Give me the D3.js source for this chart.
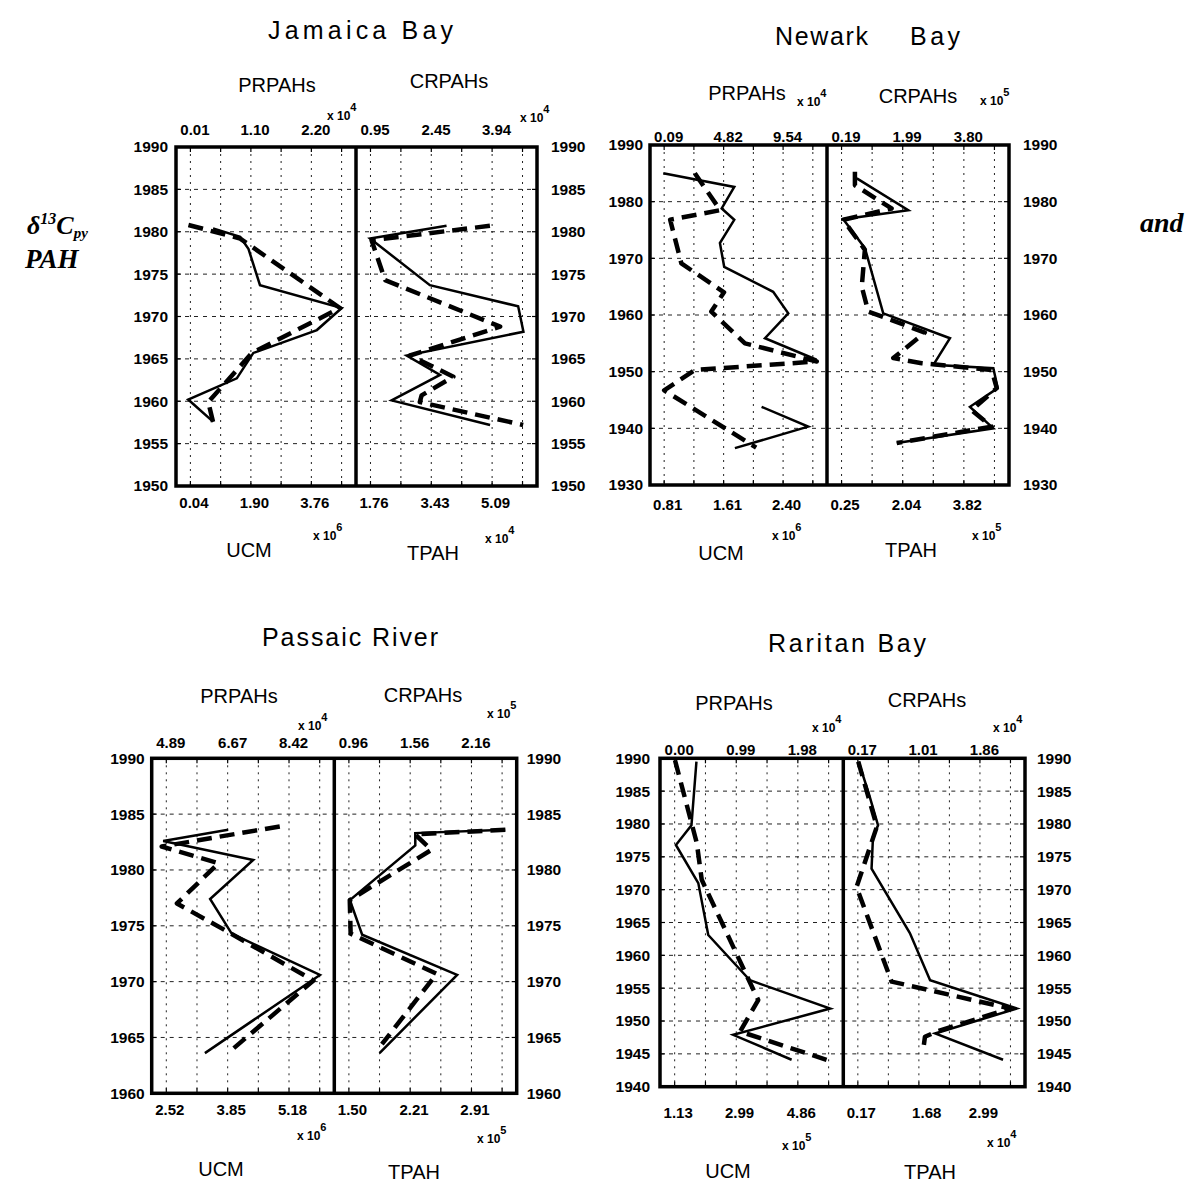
<!DOCTYPE html>
<html><head><meta charset="utf-8">
<script src="https://cdn.jsdelivr.net/npm/d3@7"></script>
<style>body{margin:0;background:#fff}svg{display:block}</style>
</head><body>
<svg id="chart" width="1191" height="1185"></svg>
<script>
// ---------------- DATA ----------------
// Each series: [year, value] ; value in units of the printed axis (times its exponent)
const jamaicaYearTicks = [1950,1955,1960,1965,1970,1975,1980,1985,1990];
const jamaicaPRTicks = [0.01, 1.10, 2.20];
const jamaicaCRTicks = [0.95, 2.45, 3.94];
const jamaicaUCMTicks = [0.04, 1.90, 3.76];
const jamaicaTPAHTicks = [1.76, 3.43, 5.09];
const jamaicaExponents = [4, 4, 6, 4]; // PRPAHs, CRPAHs, UCM, TPAH
const jamaicaPRPAHs = [[1980.4,0.42],[1979.4,0.91],[1978.0,1.06],[1973.7,1.27],[1971.0,2.75],[1968.4,2.30],[1965.7,1.15],[1962.7,0.85],[1960.2,-0.03],[1957.6,0.42]];
const jamaicaUCM = [[1980.8,-0.02],[1979.2,1.57],[1971.0,4.64],[1965.7,1.93],[1959.9,0.59],[1957.5,0.74]];
const jamaicaCRPAHs = [[1980.7,2.82],[1979.2,0.94],[1973.7,2.41],[1971.2,4.58],[1968.2,4.71],[1965.4,1.84],[1963.1,2.66],[1960.1,1.47],[1957.2,3.89]];
const jamaicaTPAH = [[1980.7,5.03],[1979.0,1.79],[1974.3,2.16],[1968.8,5.31],[1965.4,2.84],[1962.9,4.03],[1960.7,3.16],[1959.9,3.11],[1957.2,5.94]];

const newarkYearTicks = [1930,1940,1950,1960,1970,1980,1990];
const newarkPRTicks = [0.09, 4.82, 9.54];
const newarkCRTicks = [0.19, 1.99, 3.80];
const newarkUCMTicks = [0.81, 1.61, 2.40];
const newarkTPAHTicks = [0.25, 2.04, 3.82];
const newarkExponents = [4, 5, 6, 5];
const newarkPRPAHs = [[1985.0,0.02],[1982.6,5.66],[1978.8,4.66],[1976.8,5.66],[1972.7,4.52],[1968.5,4.86],[1964.1,8.75],[1960.3,9.95],[1955.9,8.10],[1952.1,12.20],[1948.0,null],[1943.8,7.83],[1940.3,11.53],[1936.5,5.71]];
const newarkUCM = [[1985.0,1.22],[1978.5,1.56],[1976.8,0.89],[1969.1,1.04],[1964.0,1.61],[1960.6,1.44],[1955.0,1.89],[1951.8,2.85],[1950.3,1.22],[1946.7,0.81],[1936.6,2.04]];
const newarkCRPAHs = [[1984.1,0.64],[1978.5,2.16],[1976.9,0.24],[1971.8,0.88],[1960.3,1.42],[1955.9,3.39],[1951.2,2.90],[1950.6,4.67],[1947.1,4.80],[1943.8,3.98],[1940.0,4.67],[1937.4,1.82]];
const newarkTPAH = [[1985.3,0.64],[1982.9,0.64],[1978.8,1.71],[1976.8,0.30],[1971.5,0.93],[1965.0,0.84],[1960.6,1.03],[1959.1,1.71],[1956.9,2.68],[1952.4,1.76],[1951.5,2.59],[1950.3,4.63],[1947.1,4.78],[1943.2,4.05],[1940.3,4.63],[1937.4,1.86]];

const passaicYearTicks = [1960,1965,1970,1975,1980,1985,1990];
const passaicPRTicks = [4.89, 6.67, 8.42];
const passaicCRTicks = [0.96, 1.56, 2.16];
const passaicUCMTicks = [2.52, 3.85, 5.18];
const passaicTPAHTicks = [1.50, 2.21, 2.91];
const passaicExponents = [4, 5, 6, 5];
const passaicPRPAHs = [[1983.6,6.67],[1982.6,4.80],[1980.9,7.39],[1977.4,6.15],[1974.3,6.77],[1970.6,9.31],[1963.6,6.00]];
const passaicUCM = [[1983.9,4.98],[1982.1,2.42],[1980.6,3.65],[1977.0,2.75],[1974.7,3.75],[1970.1,5.71],[1964.0,3.97]];
const passaicCRPAHs = [[1983.6,2.49],[1983.3,1.61],[1982.2,1.61],[1977.3,0.97],[1974.2,1.09],[1970.6,2.02],[1963.6,1.26]];
const passaicTPAH = [[1983.6,3.30],[1983.2,2.26],[1981.8,2.45],[1977.3,1.51],[1974.3,1.52],[1970.7,2.51],[1964.4,1.88]];

const raritanYearTicks = [1940,1945,1950,1955,1960,1965,1970,1975,1980,1985,1990];
const raritanPRTicks = [0.00, 0.99, 1.98];
const raritanCRTicks = [0.17, 1.01, 1.86];
const raritanUCMTicks = [1.13, 2.99, 4.86];
const raritanTPAHTicks = [0.17, 1.68, 2.99];
const raritanExponents = [4, 4, 5, 4];
const raritanPRPAHs = [[1989.5,0.35],[1979.8,0.27],[1976.8,0.02],[1971.0,0.38],[1963.1,0.54],[1956.2,1.21],[1951.9,2.50],[1947.9,0.94],[1944.1,1.88]];
const raritanUCM = [[1989.7,1.14],[1977.1,1.80],[1971.5,1.95],[1953.2,3.66],[1948.4,3.11],[1944.1,5.73]];
const raritanCRPAHs = [[1989.5,0.18],[1984.7,0.32],[1979.8,0.45],[1978.1,0.38],[1973.2,0.36],[1963.4,0.89],[1956.2,1.17],[1951.9,2.37],[1948.1,1.24],[1944.1,2.18]];
const raritanTPAH = [[1989.5,0.18],[1979.6,0.61],[1970.4,0.14],[1956.0,0.95],[1951.9,3.69],[1948.4,1.99],[1947.6,1.72],[1945.6,1.68]];

const panelTitles = ['Jamaica Bay', 'Newark Bay', 'Passaic River', 'Raritan Bay'];
const topNames = ['PRPAHs', 'CRPAHs'];
const bottomNames = ['UCM', 'TPAH'];

// ---------------- LAYOUT ----------------
const layouts = [
  {L:176,D:356,R:537,T:147,B:486, title:[[268,453,39]], names:[[277,92],[449,88]], bnames:[[249,557],[433,560]],
   topY:135, botY:508, yl:8, yr:14, tExp:[[327,120],[520,122]], bExp:[[313,540],[485,543]]},
  {L:650,D:827,R:1009,T:145,B:485, title:[[775,868,45],[910,960,45]], names:[[747,100],[918,103]], bnames:[[721,560],[911,557]],
   topY:142, botY:510, yl:7, yr:14, tExp:[[797,106],[980,105]], bExp:[[772,540],[972,540]]},
  {L:151.7,D:334.3,R:516.7,T:758.3,B:1093.3, title:[[262,438,646]], names:[[239,703],[423,702]], bnames:[[221,1176],[414,1179]],
   topY:748, botY:1115, yl:7, yr:10, tExp:[[298,730],[487,718]], bExp:[[297,1140],[477,1143]]},
  {L:660,D:843.3,R:1025,T:758.3,B:1086.7, title:[[768,926,652]], names:[[734,710],[927,707]], bnames:[[728,1178],[930,1179]],
   topY:755, botY:1118, yl:10, yr:12, tExp:[[812,732],[993,732]], bExp:[[782,1150],[987,1147]]}
];

const panels = [
  {years:jamaicaYearTicks, subs:[
    {top:jamaicaPRTicks, bot:jamaicaUCMTicks, solid:jamaicaPRPAHs, dashed:jamaicaUCM, te:jamaicaExponents[0], be:jamaicaExponents[2]},
    {top:jamaicaCRTicks, bot:jamaicaTPAHTicks, solid:jamaicaCRPAHs, dashed:jamaicaTPAH, te:jamaicaExponents[1], be:jamaicaExponents[3]}]},
  {years:newarkYearTicks, subs:[
    {top:newarkPRTicks, bot:newarkUCMTicks, solid:newarkPRPAHs, dashed:newarkUCM, te:newarkExponents[0], be:newarkExponents[2]},
    {top:newarkCRTicks, bot:newarkTPAHTicks, solid:newarkCRPAHs, dashed:newarkTPAH, te:newarkExponents[1], be:newarkExponents[3]}]},
  {years:passaicYearTicks, subs:[
    {top:passaicPRTicks, bot:passaicUCMTicks, solid:passaicPRPAHs, dashed:passaicUCM, te:passaicExponents[0], be:passaicExponents[2]},
    {top:passaicCRTicks, bot:passaicTPAHTicks, solid:passaicCRPAHs, dashed:passaicTPAH, te:passaicExponents[1], be:passaicExponents[3]}]},
  {years:raritanYearTicks, subs:[
    {top:raritanPRTicks, bot:raritanUCMTicks, solid:raritanPRPAHs, dashed:raritanUCM, te:raritanExponents[0], be:raritanExponents[2]},
    {top:raritanCRTicks, bot:raritanTPAHTicks, solid:raritanCRPAHs, dashed:raritanTPAH, te:raritanExponents[1], be:raritanExponents[3]}]}
];

const SANS = "'Liberation Sans', Arial, Helvetica, sans-serif";
const SERIF = "'Liberation Serif', 'Times New Roman', serif";
const svg = d3.select('#chart');
svg.append('rect').attr('width',1191).attr('height',1185).attr('fill','#fff');
const fmt2 = d3.format('.2f');

function expLabel(x, y, e) {
  const t = svg.append('text').attr('x', x).attr('y', y).attr('font-family', SANS)
    .attr('font-size', 12).attr('font-weight','bold').attr('fill','#000');
  t.append('tspan').text('x 10');
  t.append('tspan').attr('dy', -9).attr('font-size', 11).text(e);
}

panels.forEach((p, pi) => {
  const lay = layouts[pi];
  const ys = d3.scaleLinear().domain([p.years[0], p.years[p.years.length - 1]]).range([lay.B, lay.T]);

  // title(s)
  const words = pi === 1 ? ['Newark', 'Bay'] : [panelTitles[pi]];
  lay.title.forEach((tt, k) => {
    svg.append('text').attr('x', tt[0]).attr('y', tt[2]).attr('font-family', SANS)
      .attr('font-size', 25).attr('textLength', tt[1] - tt[0]).attr('lengthAdjust', 'spacing')
      .text(words[k]);
  });

  const bounds = [[lay.L, lay.D], [lay.D, lay.R]];
  p.subs.forEach((s, i) => {
    const [x0, x1] = bounds[i];
    const w = x1 - x0;
    const g0 = x0 + w * 0.08, g4 = x0 + w * (0.08 + 4 * 0.168);
    const xsTop = d3.scaleLinear().domain([s.top[0], s.top[2]]).range([g0, g4]);
    const xsBot = d3.scaleLinear().domain([s.bot[0], s.bot[2]]).range([g0, g4]);

    // grid
    const gridVals = d3.range(6).map(k => s.top[0] + k * (s.top[2] - s.top[0]) / 4);
    svg.append('g').selectAll('line').data(gridVals).join('line')
      .attr('x1', d => xsTop(d)).attr('x2', d => xsTop(d)).attr('y1', lay.T).attr('y2', lay.B)
      .attr('stroke', '#222').attr('stroke-width', 1).attr('stroke-dasharray', '2,5');
    svg.append('g').selectAll('line').data(p.years).join('line')
      .attr('x1', x0).attr('x2', x1).attr('y1', d => ys(d)).attr('y2', d => ys(d))
      .attr('stroke', '#222').attr('stroke-width', 1).attr('stroke-dasharray', '4,5');
    // inward ticks
    svg.append('g').selectAll('line').data(gridVals).join('line')
      .attr('x1', d => xsTop(d)).attr('x2', d => xsTop(d)).attr('y1', lay.B).attr('y2', lay.B - 5)
      .attr('stroke', '#000').attr('stroke-width', 1.2);
    svg.append('g').selectAll('line').data(gridVals).join('line')
      .attr('x1', d => xsTop(d)).attr('x2', d => xsTop(d)).attr('y1', lay.T).attr('y2', lay.T + 5)
      .attr('stroke', '#000').attr('stroke-width', 1.2);

    // top tick labels
    const ga = svg.append('g').attr('transform', `translate(0,${lay.topY})`)
      .call(d3.axisTop(xsTop).tickValues(s.top).tickSize(0).tickPadding(0).tickFormat(fmt2));
    ga.select('.domain').remove();
    ga.selectAll('text').attr('y', 0).attr('dy', 0).attr('dx', 4)
      .attr('font-family', SANS).attr('font-size', 15).attr('font-weight', 'bold').attr('fill', '#000');
    // bottom tick labels
    const gb = svg.append('g').attr('transform', `translate(0,${lay.botY})`)
      .call(d3.axisBottom(xsBot).tickValues(s.bot).tickSize(0).tickPadding(0).tickFormat(fmt2));
    gb.select('.domain').remove();
    gb.selectAll('text').attr('y', 0).attr('dy', 0).attr('dx', 3)
      .attr('font-family', SANS).attr('font-size', 15).attr('font-weight', 'bold').attr('fill', '#000');

    // names
    svg.append('text').attr('x', lay.names[i][0]).attr('y', lay.names[i][1]).attr('text-anchor', 'middle')
      .attr('font-family', SANS).attr('font-size', 20).text(topNames[i]);
    svg.append('text').attr('x', lay.bnames[i][0]).attr('y', lay.bnames[i][1]).attr('text-anchor', 'middle')
      .attr('font-family', SANS).attr('font-size', 20).text(bottomNames[i]);
    expLabel(lay.tExp[i][0], lay.tExp[i][1], s.te);
    expLabel(lay.bExp[i][0], lay.bExp[i][1], s.be);

    // data lines
    const lineTop = d3.line().defined(d => d[1] != null).x(d => xsTop(d[1])).y(d => ys(d[0]));
    const lineBot = d3.line().defined(d => d[1] != null).x(d => xsBot(d[1])).y(d => ys(d[0]));
    svg.append('path').datum(s.dashed).attr('d', lineBot).attr('fill', 'none')
      .attr('stroke', '#000').attr('stroke-width', 4.5).attr('stroke-dasharray', '15,8')
      .attr('stroke-linejoin', 'round');
    svg.append('path').datum(s.solid).attr('d', lineTop).attr('fill', 'none')
      .attr('stroke', '#000').attr('stroke-width', 2.5).attr('stroke-linejoin', 'miter');
  });

  // year tick marks on frame sides
  svg.append('g').selectAll('line').data(p.years).join('line')
    .attr('x1', lay.L).attr('x2', lay.L + 5).attr('y1', d => ys(d)).attr('y2', d => ys(d))
    .attr('stroke', '#000').attr('stroke-width', 1.2);
  svg.append('g').selectAll('line').data(p.years).join('line')
    .attr('x1', lay.R).attr('x2', lay.R - 5).attr('y1', d => ys(d)).attr('y2', d => ys(d))
    .attr('stroke', '#000').attr('stroke-width', 1.2);

  // year axes
  const yl = svg.append('g').attr('transform', `translate(${lay.L - lay.yl},0)`)
    .call(d3.axisLeft(ys).tickValues(p.years).tickSize(0).tickPadding(0).tickFormat(d3.format('d')));
  yl.select('.domain').remove();
  yl.selectAll('text').attr('x', 0).attr('font-family', SANS).attr('font-size', 15.5)
    .attr('font-weight', 'bold').attr('fill', '#000');
  const yr = svg.append('g').attr('transform', `translate(${lay.R + lay.yr},0)`)
    .call(d3.axisRight(ys).tickValues(p.years).tickSize(0).tickPadding(0).tickFormat(d3.format('d')));
  yr.select('.domain').remove();
  yr.selectAll('text').attr('x', 0).attr('font-family', SANS).attr('font-size', 15.5)
    .attr('font-weight', 'bold').attr('fill', '#000');

  // frame and divider
  svg.append('rect').attr('x', lay.L).attr('y', lay.T).attr('width', lay.R - lay.L).attr('height', lay.B - lay.T)
    .attr('fill', 'none').attr('stroke', '#000').attr('stroke-width', 3.5);
  svg.append('line').attr('x1', lay.D).attr('x2', lay.D).attr('y1', lay.T).attr('y2', lay.B)
    .attr('stroke', '#000').attr('stroke-width', 3.5);
});

// side texts
const lt = svg.append('text').attr('x', 27).attr('y', 234).attr('font-family', SERIF)
  .attr('font-style', 'italic').attr('font-weight', 'bold').attr('font-size', 26);
lt.append('tspan').text('δ');
lt.append('tspan').attr('dy', -10).attr('font-size', 16).text('13');
lt.append('tspan').attr('dy', 10).text('C');
lt.append('tspan').attr('dy', 4).attr('font-size', 15).text('py');
svg.append('text').attr('x', 25).attr('y', 268).attr('font-family', SERIF)
  .attr('font-style', 'italic').attr('font-weight', 'bold').attr('font-size', 27).text('PAH');
svg.append('text').attr('x', 1140).attr('y', 232).attr('font-family', SERIF)
  .attr('font-style', 'italic').attr('font-weight', 'bold').attr('font-size', 28).text('and');
</script>
</body></html>
